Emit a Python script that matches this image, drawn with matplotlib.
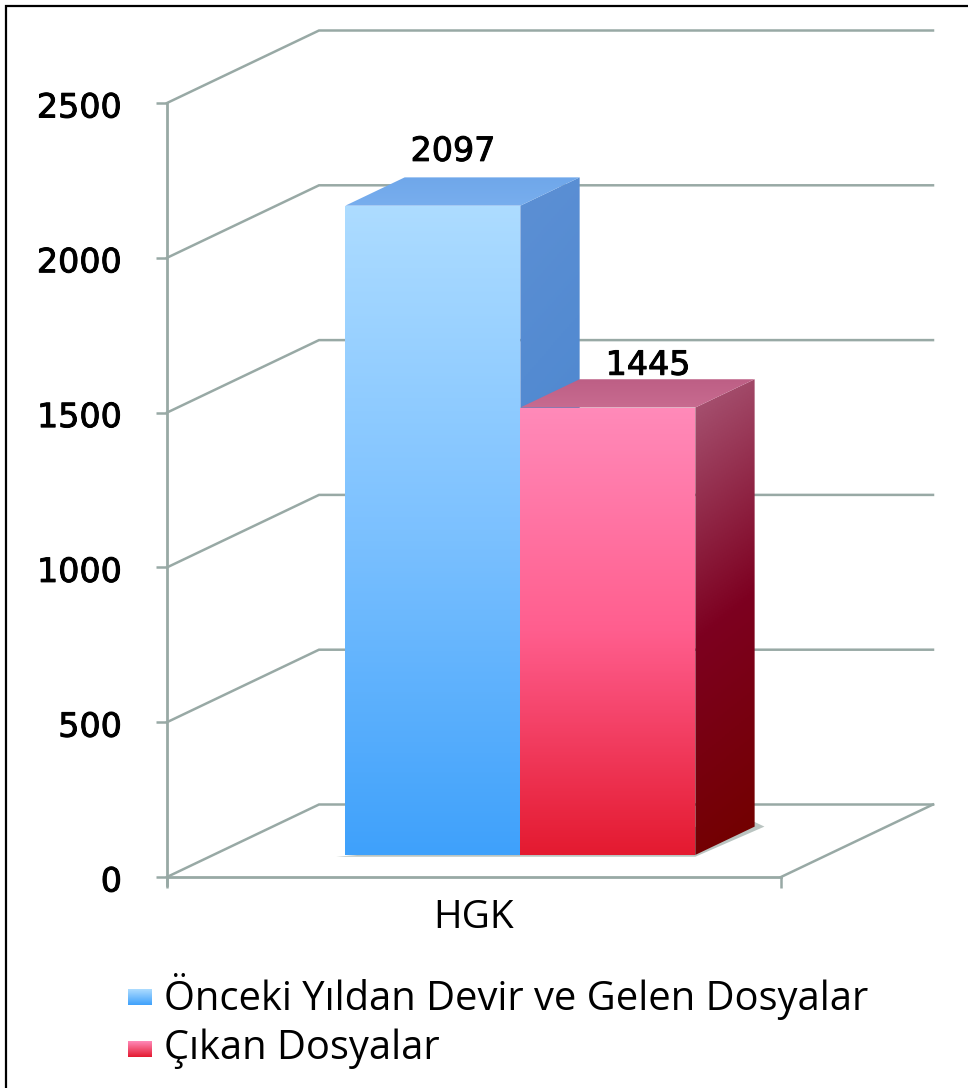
import numpy as np
import matplotlib
matplotlib.use('Agg')
import matplotlib.pyplot as plt
import matplotlib.patheffects as pe
from matplotlib.colors import LinearSegmentedColormap
from matplotlib.patches import Polygon, Rectangle

# Valores del grafico
categories = ['HGK']
series_names = ['Önceki Yıldan Devir ve Gelen Dosyalar', 'Çıkan Dosyalar']
series_values = [2097, 1445]
y_ticks = [0, 500, 1000, 1500, 2000, 2500]

W, H = 968, 1088
# la escala: x=0..1 es el ancho de la categoria, y en unidades del eje
X0, X1 = 167, 781
Y0, Y2500 = 877, 103
PX_X = X1 - X0
PX_Y = (Y0 - Y2500) / 2500
DEPTH_X = 152 / PX_X
DEPTH_Y = 72.5 / PX_Y

GRID = '#98a9a5'
BLUE_FRONT = ['#addcff', '#7cc1ff', '#3fa1fb']
BLUE_SIDE = ['#5b8fd4', '#3f7fca']
BLUE_TOP = ['#6fa7ea', '#78aeee']
PINK_FRONT = ['#ff8ab9', '#ff5e8e', '#e41a30']
PINK_SIDE = ['#a5506f', '#7d0020', '#730000']
PINK_TOP = ['#bd5f85', '#c86b90']
BOLDER = [pe.withStroke(linewidth=0.7, foreground='black')]


def proj(x, y, d):
    return x + d * DEPTH_X, y + d * DEPTH_Y


def gradient_poly(ax, pts, colors, diag=0.0, zorder=3):
    # relleno con degradado recortado al poligono
    pts = np.array(pts)
    xs, ys = pts[:, 0], pts[:, 1]
    xx, yy = np.meshgrid(np.linspace(0, 1, 60), np.linspace(0, 1, 300))
    t = np.clip((1 - yy) + diag * (xx - 0.5), 0, 1)
    cmap = LinearSegmentedColormap.from_list('g', colors)
    im = ax.imshow(t, cmap=cmap, vmin=0, vmax=1, origin='lower', aspect='auto',
                   extent=(xs.min(), xs.max(), ys.min(), ys.max()), zorder=zorder)
    poly = Polygon(pts, closed=True, transform=ax.transData, fc='none', ec='none')
    ax.add_patch(poly)
    im.set_clip_path(poly)


fig = plt.figure(figsize=(W / 100, H / 100), dpi=100)
ax = fig.add_axes([0, 0, 1, 1])
ax.patch.set_visible(False)

# muro y suelo
for v in y_ticks:
    x1, y1 = proj(0, v, 1)
    x2, y2 = proj(1, v, 1)
    ax.plot([0, x1, x2], [v, y1, y2], color=GRID, lw=1.8, zorder=1, solid_joinstyle='miter')
fx, fy = proj(1, 0, 1)
ax.plot([1, fx], [0, fy], color=GRID, lw=1.8, zorder=1)

# barras
bar_edges = [0.5 - 0.285, 0.5, 0.5 + 0.285]
d0, d1 = 0.305, 0.695

# sombra debajo de las barras
sx0, sy0 = proj(bar_edges[0] - 0.015, -6, d0)
sx1, sy1 = proj(bar_edges[2], -6, d0)
sx2, sy2 = proj(bar_edges[2] + 0.016, 0, d1)
ax.add_patch(Polygon([(sx0, sy0), (sx1, sy1), (sx2, sy2), proj(bar_edges[2], 15, d1)],
                     fc='#aebab6', ec='none', alpha=0.85, zorder=2))

styles = [(BLUE_FRONT, BLUE_SIDE, BLUE_TOP), (PINK_FRONT, PINK_SIDE, PINK_TOP)]
label_shift = [(-39, 26), (-19, 14)]
for i, val in enumerate(series_values):
    a, b = bar_edges[i], bar_edges[i + 1]
    front, side, top = styles[i]
    gradient_poly(ax, [proj(b, 0, d0), proj(b, val, d0), proj(b, val, d1), proj(b, 0, d1)],
                  side, diag=0.1, zorder=3 + i * 2)
    gradient_poly(ax, [proj(a, val, d0), proj(b, val, d0), proj(b, val, d1), proj(a, val, d1)],
                  top, zorder=3 + i * 2)
    gradient_poly(ax, [proj(a, 0, d0), proj(b, 0, d0), proj(b, val, d0), proj(a, val, d0)],
                  front, zorder=4 + i * 2)
    lx, ly = proj((a + b) / 2, val, d1)
    ax.annotate(str(val), (lx, ly), xytext=label_shift[i], textcoords='offset pixels',
                ha='center', va='center', fontsize=24, family='DejaVu Sans', color='black',
                zorder=10, path_effects=BOLDER)

# ejes de verdad
ax.set_xlim(-X0 / PX_X, (W - X0) / PX_X)
ax.set_ylim(-(H - Y0) / PX_Y, Y0 / PX_Y)
for s in ['top', 'right']:
    ax.spines[s].set_visible(False)
ax.spines['left'].set_position(('data', 0))
ax.spines['bottom'].set_position(('data', 0))
ax.spines['left'].set_bounds(-8 / PX_Y, 2500)
ax.spines['bottom'].set_bounds(0, 1)
for s in ['left', 'bottom']:
    ax.spines[s].set_color(GRID)
    ax.spines[s].set_linewidth(2)
    ax.spines[s].set_zorder(2)
ax.set_yticks(y_ticks)
ax.set_yticklabels([])
ax.set_xticks([0, 1])
ax.set_xticklabels([])
ax.tick_params(axis='both', color=GRID, length=8, width=1.8)
for v in y_ticks:
    ax.annotate(str(v), (0, v), xytext=(-45, -5), textcoords='offset pixels',
                ha='right', va='center', fontsize=24, family='DejaVu Sans', color='black',
                path_effects=BOLDER)
ax.annotate(categories[0], (0.5, 0), xytext=(0, -41), textcoords='offset pixels',
            ha='center', va='center', fontsize=28, family='Open Sans', color='black')

# leyenda a mano
swatch_y = [997, 1049]
text_y = [996, 1049]
legend_cols = [[BLUE_FRONT[0], BLUE_FRONT[2]], [PINK_FRONT[0], PINK_FRONT[2]]]
for sy, ty, name, cols in zip(swatch_y, text_y, series_names, legend_cols):
    lx0 = (128 - X0) / PX_X
    lx1 = (152 - X0) / PX_X
    ly0 = (Y0 - (sy + 8)) / PX_Y
    ly1 = (Y0 - (sy - 8)) / PX_Y
    gradient_poly(ax, [(lx0, ly0), (lx1, ly0), (lx1, ly1), (lx0, ly1)], cols)
    ax.text((164 - X0) / PX_X, (Y0 - ty) / PX_Y, name, ha='left', va='center',
            fontsize=28.7, family='Open Sans', color='black')

ax.set_xlim(-X0 / PX_X, (W - X0) / PX_X)
ax.set_ylim(-(H - Y0) / PX_Y, Y0 / PX_Y)

# marco negro de la imagen
fig.add_artist(Rectangle((6 / W, -0.01), 1.1, 1 + 0.01 - 6 / H, transform=fig.transFigure,
                         fc='none', ec='black', lw=1.6))

fig.savefig('out.png', dpi=100)
